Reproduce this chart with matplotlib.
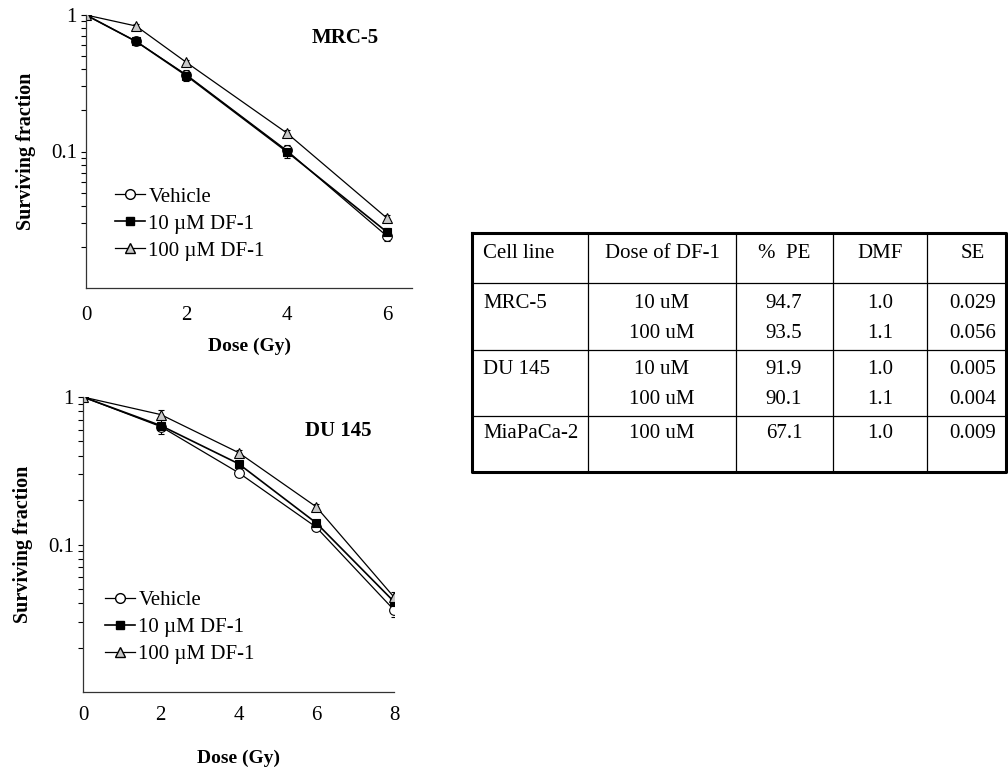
import matplotlib
matplotlib.use("Agg")
import matplotlib.pyplot as plt
from matplotlib.lines import Line2D
from matplotlib.ticker import FixedLocator, LogLocator, NullFormatter, FixedFormatter

plt.rcParams['font.family'] = ['Liberation Serif', 'DejaVu Serif']

# MRC-5 survival
mrc_dose = [0, 1, 2, 4, 6]
mrc_vehicle = [1.0, 0.64, 0.365, 0.102, 0.024]
mrc_vehicle_err = [0, 0.02, 0.03, 0.01, 0.002]
mrc_df10 = [1.0, 0.64, 0.36, 0.100, 0.0257]
mrc_df10_err = [0, 0.015, 0.03, 0.01, 0.002]
mrc_df100 = [1.0, 0.83, 0.45, 0.137, 0.0325]
mrc_df100_err = [0, 0.03, 0.02, 0.006, 0.0015]

# DU 145 survival
du_dose = [0, 2, 4, 6, 8]
du_vehicle = [1.0, 0.63, 0.307, 0.131, 0.036]
du_vehicle_err = [0, 0.07, 0.01, 0.005, 0.004]
du_df10 = [1.0, 0.64, 0.353, 0.14, 0.041]
du_df10_err = [0, 0.02, 0.01, 0.005, 0.003]
du_df100 = [1.0, 0.76, 0.42, 0.18, 0.044]
du_df100_err = [0, 0.05, 0.02, 0.008, 0.004]

series_labels = ["Vehicle", "10 µM DF-1", "100 µM DF-1"]

# table
tbl_header = ["Cell line", "Dose of DF-1", "%  PE", "DMF", "SE"]
tbl_cell = ["MRC-5", "", "DU 145", "", "MiaPaCa-2"]
tbl_dose = ["10 uM", "100 uM", "10 uM", "100 uM", "100 uM"]
tbl_pe = ["94.7", "93.5", "91.9", "90.1", "67.1"]
tbl_dmf = ["1.0", "1.1", "1.0", "1.1", "1.0"]
tbl_se = ["0.029", "0.056", "0.005", "0.004", "0.009"]

W, H = 1008, 769
fig = plt.figure(figsize=(W / 100, H / 100), dpi=100)


def px_axes(left, top, right, bottom):
    return fig.add_axes([left / W, 1 - bottom / H, (right - left) / W, (bottom - top) / H])


styles = [
    dict(marker='o', mfc='white', mec='black', ms=7, lw=0.9),
    dict(marker='s', mfc='black', mec='black', ms=6, lw=1.2),
    dict(marker='^', mfc='#c8c8c8', mec='black', ms=6.5, lw=0.9),
]


def survival_plot(ax, dose, curves, errs, xmax, xticks, title, title_xy, leg_anchor, xpad):
    for y, e, st in zip(curves, errs, styles):
        ax.errorbar(dose, y, yerr=e, color='black', capsize=2.5, elinewidth=0.8,
                    mew=0.8, **st)
    ax.set_yscale('log')
    ax.set_ylim(0.01, 1.0)
    ax.set_xlim(0, xmax)
    ax.yaxis.set_major_locator(FixedLocator([0.1, 1]))
    ax.yaxis.set_major_formatter(FixedFormatter(["0.1", "1"]))
    ax.yaxis.set_minor_locator(LogLocator(base=10, subs=(0.2, 0.3, 0.4, 0.5, 0.6, 0.7, 0.8, 0.9)))
    ax.yaxis.set_minor_formatter(NullFormatter())
    ax.set_xticks(xticks)
    ax.tick_params(axis='y', which='both', direction='out', length=3.5, width=0.8, labelsize=15, pad=3)
    ax.tick_params(axis='x', length=0, labelsize=15, pad=xpad)
    for s in ['top', 'right']:
        ax.spines[s].set_visible(False)
    for s in ['left', 'bottom']:
        ax.spines[s].set_linewidth(0.9)
        ax.spines[s].set_color('#333333')
    ax.set_ylabel("Surviving fraction", fontsize=14.5, fontweight='bold', labelpad=11)
    ax.text(title_xy[0], title_xy[1], title, transform=ax.transAxes, fontsize=15,
            fontweight='bold', ha='center', va='center')
    handles = [Line2D([], [], color='black', **st) for st in styles]
    ax.legend(handles, series_labels, loc='upper left', bbox_to_anchor=leg_anchor,
              frameon=False, fontsize=15, handlelength=1.45, handletextpad=0.15,
              labelspacing=0.36, borderpad=0, borderaxespad=0)


# top panel: MRC-5
ax1 = px_axes(86, 15, 412, 288)
survival_plot(ax1, mrc_dose, [mrc_vehicle, mrc_df10, mrc_df100],
              [mrc_vehicle_err, mrc_df10_err, mrc_df100_err],
              6.5, [0, 2, 4, 6], "MRC-5", (0.795, 0.915), (0.089, 0.37), 13)
ax1.set_xlabel("Dose (Gy)", fontsize=14, fontweight='bold', labelpad=9)

# bottom panel: DU 145
ax2 = px_axes(83, 397, 394, 692)
survival_plot(ax2, du_dose, [du_vehicle, du_df10, du_df100],
              [du_vehicle_err, du_df10_err, du_df100_err],
              8, [0, 2, 4, 6, 8], "DU 145", (0.82, 0.885), (0.071, 0.345), 10)
ax2.set_xlabel("Dose (Gy)", fontsize=14, fontweight='bold', labelpad=18)

# table drawn on a pixel-space overlay
tx = fig.add_axes([0, 0, 1, 1])
tx.set_xlim(0, W)
tx.set_ylim(H, 0)
tx.axis('off')

t_left, t_right, t_top, t_bottom = 472, 1006, 233, 472
col_edges = [472, 588, 736, 833, 927, 1006]
row_edges = [283, 350, 416]
for xe in col_edges[1:-1]:
    tx.plot([xe, xe], [t_top, t_bottom], color='black', lw=0.9)
for ye in row_edges:
    tx.plot([t_left, t_right], [ye, ye], color='black', lw=0.9)
tx.plot([t_left, t_right, t_right, t_left, t_left],
        [t_top, t_top, t_bottom, t_bottom, t_top], color='black', lw=2.2)

col_x = [483, 662, 784, 880, 973]
col_ha = ['left', 'center', 'center', 'center', 'center']
for txt, x, ha in zip(tbl_header, col_x, col_ha):
    tx.text(x, 253, txt, fontsize=15, ha=ha, va='center')

line_y = [303, 333, 370, 400, 433]
for i, y in enumerate(line_y):
    vals = [tbl_cell[i], tbl_dose[i], tbl_pe[i], tbl_dmf[i], tbl_se[i]]
    for txt, x, ha in zip(vals, col_x, col_ha):
        tx.text(x, y, txt, fontsize=15, ha=ha, va='center')

plt.savefig("out.png", dpi=100)
